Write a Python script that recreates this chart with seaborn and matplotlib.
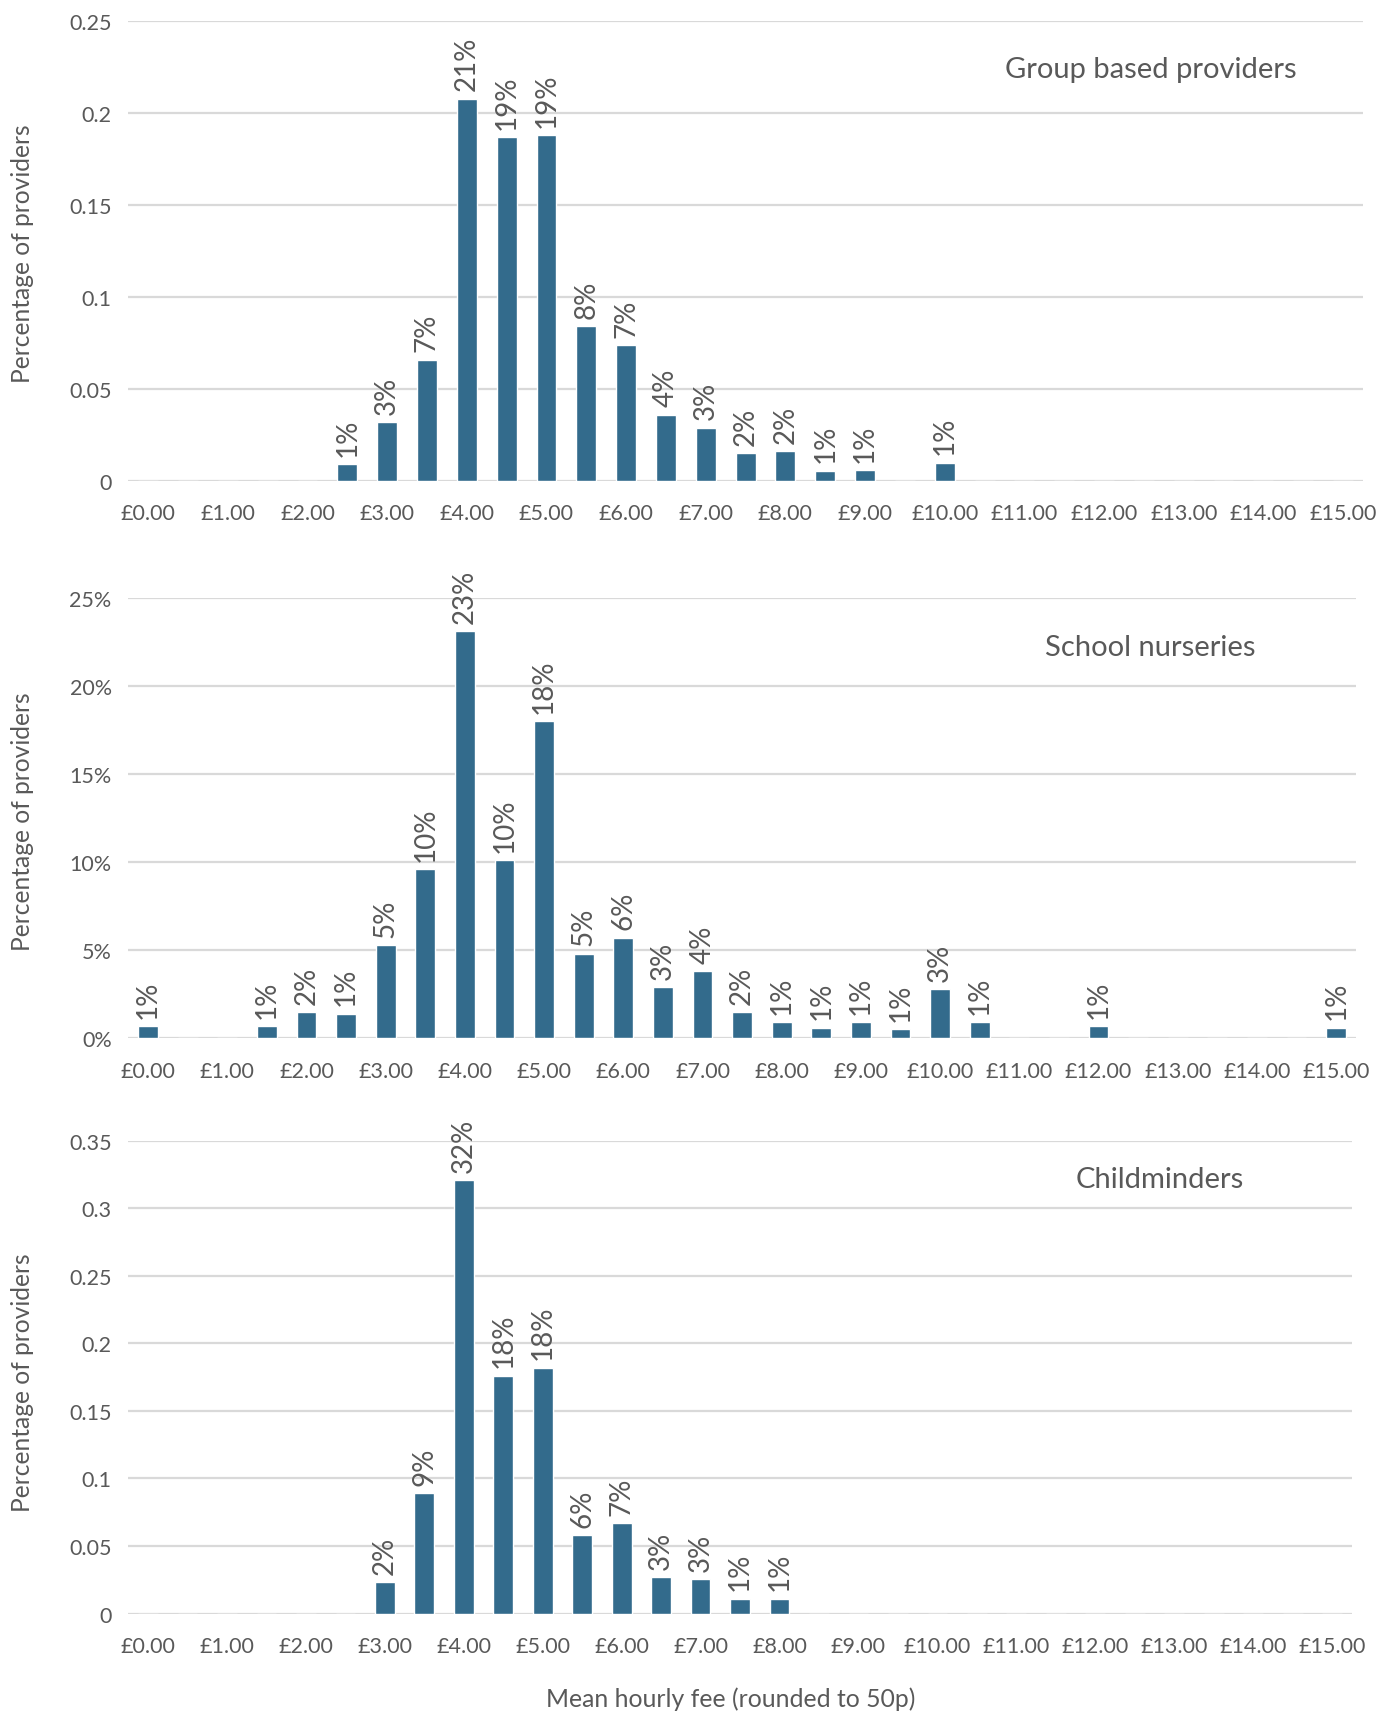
import matplotlib
matplotlib.use("Agg")
import matplotlib.pyplot as plt
import matplotlib.ticker as mticker
import seaborn as sns
import pandas as pd

# ---------------- data ----------------
fees = [f"£{i*0.5:.2f}" for i in range(31)]  # £0.00 .. £15.00 in 50p steps

group_based = [0, 0, 0, 0, 0, 0.009, 0.032, 0.066, 0.208, 0.187, 0.188, 0.084,
               0.074, 0.036, 0.029, 0.015, 0.016, 0.0055, 0.006, 0, 0.010,
               0, 0, 0, 0, 0, 0, 0, 0, 0, 0]
school_nurseries = [0.007, 0, 0, 0.007, 0.015, 0.014, 0.053, 0.096, 0.231, 0.101,
                    0.180, 0.048, 0.057, 0.029, 0.038, 0.015, 0.009, 0.006, 0.009,
                    0.0052, 0.028, 0.009, 0, 0, 0.007, 0, 0, 0, 0, 0, 0.006]
childminders = [0, 0, 0, 0, 0, 0, 0.023, 0.089, 0.321, 0.176, 0.182, 0.058,
                0.067, 0.027, 0.0255, 0.011, 0.011, 0, 0, 0, 0,
                0, 0, 0, 0, 0, 0, 0, 0, 0, 0]

titles = ["Group based providers", "School nurseries", "Childminders"]
y_max = [0.25, 0.25, 0.35]
y_step = [0.05, 0.05, 0.05]
y_pct = [False, True, False]
xlabel = "Mean hourly fee (rounded to 50p)"
ylabel = "Percentage of providers"

# ---------------- style ----------------
sns.set_theme(style="white")
plt.rcParams["font.family"] = ["Lato", "DejaVu Sans"]
TXT = "#595959"
BAR = "#336B8C"
GRID = "#D9D9D9"

W, H = 1381, 1715
fig = plt.figure(figsize=(W / 100, H / 100), dpi=100)

# axes rectangles [left, bottom, width, height] in figure fractions
rects = [
    [0.0929, 0.719, 0.894, 0.268],
    [0.0929, 0.394, 0.889, 0.257],
    [0.0929, 0.0586, 0.886, 0.2756],
]
title_pos = [(0.833, 0.959), (0.833, 0.622), (0.840, 0.312)]
ylabel_y = [0.852, 0.521, 0.194]

series = [group_based, school_nurseries, childminders]

for k, vals in enumerate(series):
    ax = fig.add_axes(rects[k])
    df = pd.DataFrame({"fee": fees, "share": vals})
    sns.barplot(data=df, x="fee", y="share", order=fees, color=BAR,
                width=0.5, saturation=1, ax=ax, zorder=3)
    ax.set_xlim(-0.5, len(fees) - 0.5)
    ax.set_ylim(0, y_max[k])
    n_ticks = int(round(y_max[k] / y_step[k])) + 1
    ax.set_yticks([i * y_step[k] for i in range(n_ticks)])
    if y_pct[k]:
        ax.yaxis.set_major_formatter(mticker.FuncFormatter(lambda v, p: f"{v*100:.0f}%"))
    else:
        ax.yaxis.set_major_formatter(mticker.FuncFormatter(lambda v, p: f"{round(v, 4):g}"))
    ax.set_xticks(range(0, len(fees), 2))
    ax.set_xticklabels(fees[::2])
    ax.tick_params(axis="both", length=0, labelsize=15.5, colors=TXT)
    ax.tick_params(axis="x", pad=16)
    ax.tick_params(axis="y", pad=12)
    ax.grid(axis="y", color=GRID, linewidth=1.6, zorder=0)
    ax.grid(axis="x", visible=False)
    for s in ax.spines.values():
        s.set_visible(False)
    ax.set_xlabel("")
    ax.set_ylabel("")

    for patch, v in zip(ax.patches, vals):
        if v > 0:
            ax.annotate(f"{v:.0%}", (patch.get_x() + patch.get_width() / 2, v),
                        xytext=(0, 6), textcoords="offset points",
                        rotation=90, ha="center", va="bottom",
                        fontsize=20, color=TXT, annotation_clip=False)

    fig.text(title_pos[k][0], title_pos[k][1], titles[k], ha="center", va="center",
             fontsize=21, color=TXT)
    fig.text(0.016, ylabel_y[k], ylabel, rotation=90, ha="center", va="center",
             fontsize=17.7, color=TXT)

fig.text(0.529, 0.009, xlabel, ha="center", va="center", fontsize=17.8, color=TXT)

fig.savefig("out.png", dpi=100, facecolor="white")
